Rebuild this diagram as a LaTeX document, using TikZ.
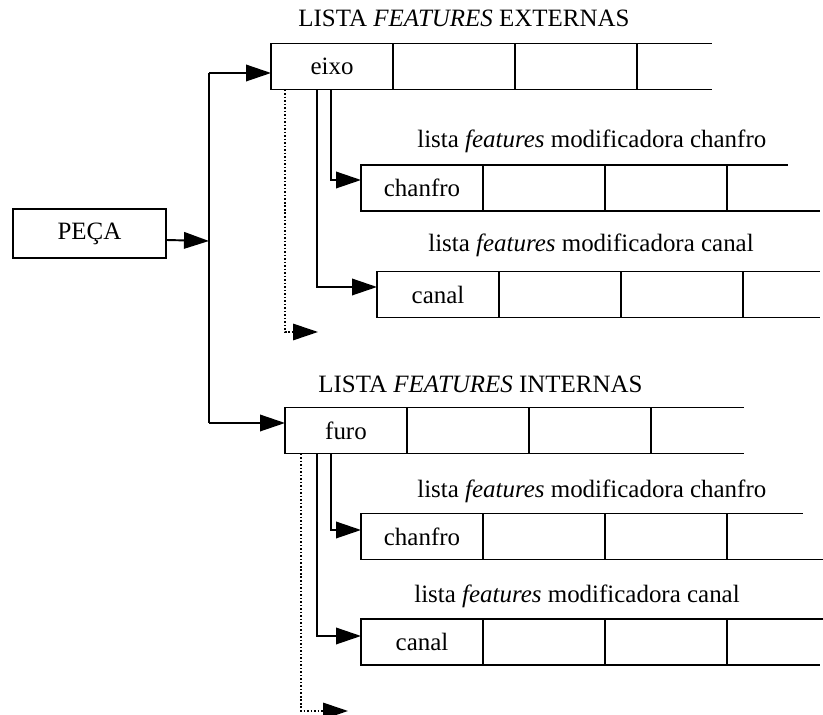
\documentclass[tikz,border=0pt]{standalone}
\usepackage{fontspec}
\setmainfont{Liberation Serif}
\usetikzlibrary{arrows.meta,positioning}
\tikzset{
  >={Triangle[length=5mm,width=3.3mm]},
  cell/.style={draw,line width=1.1pt,minimum width=2.44cm,minimum height=0.92cm,
    inner sep=0pt,outer sep=0pt,font=\fontsize{14.2}{17}\selectfont},
  rim/.style={line width=1.1pt},
  link/.style={->,line width=1.1pt},
  trail/.style={->,dash pattern=on 0.9pt off 1.1pt,line width=0.9pt},
  caption/.style={anchor=base west,inner sep=0pt,font=\fontsize{14.2}{17}\selectfont},
}

\begin{document}
\begin{tikzpicture}[x=0.02cm,y=-0.02cm]
  \useasboundingbox (0,0) rectangle (823,715);

  % the part and its two main lists
  \node[cell,minimum width=3.06cm,minimum height=0.98cm] (peca) at (89.5,233.5) {PEÇA};
  \coordinate (bustop) at (209,73);
  \coordinate (busmid) at (209,241);
  \coordinate (busbot) at (209,423);

  % external features
  \node[caption] (extlbl) at (298,27) {LISTA \textit{FEATURES} EXTERNAS};
  \node[cell] (eixo) at (332,66.5) {eixo};
  \node[cell,right=0pt of eixo] (eixo2) {};
  \node[cell,right=0pt of eixo2] (eixo3) {};
  \draw[rim] (eixo3.north east) -- ++(75,0) (eixo3.south east) -- ++(75,0);

  \node[caption] (chanAlbl) at (417,148) {lista \textit{features} modificadora chanfro};
  \node[cell] (chanA) at (422,188) {chanfro};
  \node[cell,right=0pt of chanA] (chanA2) {};
  \node[cell,right=0pt of chanA2] (chanA3) {};
  \draw[rim] (chanA3.north east) -- ++(61,0) (chanA3.south east) -- ++(93,0);

  \node[caption] (canAlbl) at (428,252) {lista \textit{features} modificadora canal};
  \node[cell] (canA) at (438,294.5) {canal};
  \node[cell,right=0pt of canA] (canA2) {};
  \node[cell,right=0pt of canA2] (canA3) {};
  \draw[rim] (canA3.north east) -- ++(77,0) (canA3.south east) -- ++(77,0);

  % internal features
  \node[caption] (intlbl) at (318,393) {LISTA \textit{FEATURES} INTERNAS};
  \node[cell] (furo) at (346,430.5) {furo};
  \node[cell,right=0pt of furo] (furo2) {};
  \node[cell,right=0pt of furo2] (furo3) {};
  \draw[rim] (furo3.north east) -- ++(93,0) (furo3.south east) -- ++(93,0);

  \node[caption] (chanBlbl) at (417,498) {lista \textit{features} modificadora chanfro};
  \node[cell] (chanB) at (422,536.5) {chanfro};
  \node[cell,right=0pt of chanB] (chanB2) {};
  \node[cell,right=0pt of chanB2] (chanB3) {};
  \draw[rim] (chanB3.north east) -- ++(76,0) (chanB3.south east) -- ++(96,0);

  \node[caption] (canBlbl) at (414,603) {lista \textit{features} modificadora canal};
  \node[cell] (canB) at (422,642) {canal};
  \node[cell,right=0pt of canB] (canB2) {};
  \node[cell,right=0pt of canB2] (canB3) {};
  \draw[rim] (canB3.north east) -- ++(96,0) (canB3.south east) -- ++(93,0);

  % connectors
  \draw[rim] (bustop) -- (busbot);
  \draw[link] ([yshift=-0.13cm]peca.east) -- (busmid);
  \draw[link] (bustop) -- (bustop -| eixo.west);
  \draw[link] (busbot) -- (busbot -| furo.west);

  \coordinate (nextA) at (318,332);
  \draw[link] ([xshift=1.2cm]eixo.south west) |- ([yshift=0.16cm]chanA.west);
  \draw[link] ([xshift=0.92cm]eixo.south west) |- ([yshift=0.15cm]canA.west);
  \draw[trail] ([xshift=0.28cm]eixo.south west) |- (nextA);

  \coordinate (nextB) at (348,711);
  \draw[link] ([xshift=0.92cm]furo.south west) |- ([yshift=0.13cm]chanB.west);
  \draw[link] ([xshift=0.64cm]furo.south west) |- ([yshift=0.12cm]canB.west);
  \draw[trail] ([xshift=0.32cm]furo.south west) |- (nextB);
\end{tikzpicture}
\end{document}
